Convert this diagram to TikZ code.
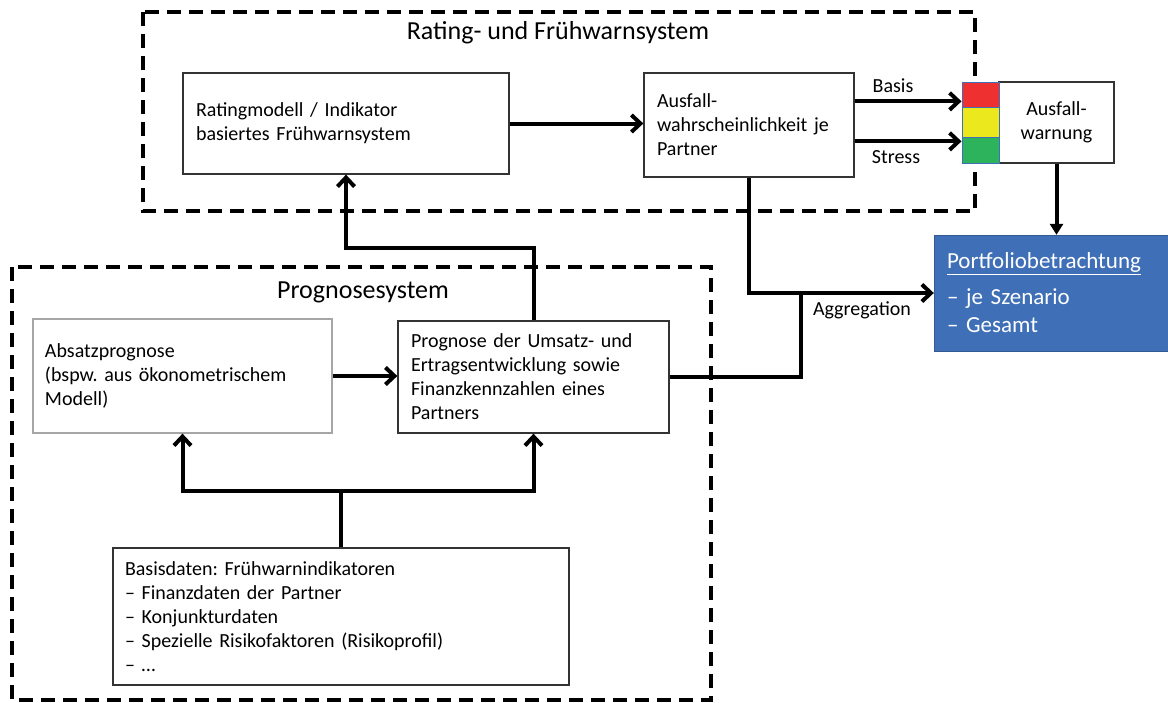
\documentclass[tikz,border=0pt]{standalone}
\usepackage{fontspec}
\setmainfont{Carlito}
\usepackage{xcolor}
\definecolor{diagram-blue}{HTML}{3F6FB6}
\definecolor{diagram-red}{HTML}{EE3030}
\definecolor{diagram-yellow}{HTML}{ECE81E}
\definecolor{diagram-green}{HTML}{2DB35B}
\definecolor{diagram-line}{HTML}{333333}
\definecolor{diagram-grey}{HTML}{A6A6A6}
\usepackage{tikz}
\usetikzlibrary{arrows.meta}
\frenchspacing

\tikzset{
    textbox/.style={draw=diagram-line, line width=1.3pt, fill=white, inner xsep=13pt, inner ysep=0pt,
        align=left, font=\fontsize{20}{24}\selectfont},
    light/.style={draw=diagram-blue, line width=1pt, minimum width=37pt, inner sep=0pt},
    frame/.style={dash pattern=on 14pt off 8pt, line width=3.6pt},
    link/.style={line width=4pt},
    arrow/.style={link, -{Straight Barb[length=9pt,width=17pt]}},
    tag/.style={font=\fontsize{20}{24}\selectfont},
    heading/.style={font=\fontsize{26}{31}\selectfont}
}

\begin{document}
\begin{tikzpicture}[x=1pt, y=-1pt]

    \useasboundingbox (0, 0) rectangle (1168, 702);

    % Frames
    \draw[frame] (143, 12) rectangle (975, 211);
    \draw[frame] (12, 267) rectangle (711, 700);
    \node[heading] (ratingtitle) at (558, 33) {Rating- und Frühwarnsystem};
    \node[heading] (prognosetitle) at (363, 292) {Prognosesystem};

    % Rating
    \node[textbox, text width=300pt, minimum height=101pt] (rating) at (346, 123.5)
        {Ratingmodell / Indikator\\basiertes Frühwarnsystem};
    \node[textbox, text width=184pt, minimum height=104pt] (ausfall) at (749, 125)
        {Ausfall-\\wahrscheinlichkeit je\\Partner};

    % Warning
    \node[textbox, align=center, inner xsep=0pt, minimum width=115pt, minimum height=81pt] (warn) at (1056.5, 122.5)
        {Ausfall-\\warnung};
    \node[light, fill=diagram-red, minimum height=25pt] (lights-red) at (980.5, 94.5) {};
    \node[light, fill=diagram-yellow, minimum height=30pt] (lights-yellow) at (980.5, 122) {};
    \node[light, fill=diagram-green, minimum height=26pt] (lights-green) at (980.5, 150) {};

    % Portfolio
    \node[fill=diagram-blue, draw=diagram-blue!80!black, text=white, align=left, inner xsep=13pt,
        text width=208pt, minimum height=116pt, font=\fontsize{23}{28}\selectfont] (portfolio) at (1051, 293)
        {\underline{Portfoliobetrachtung}\\[8pt]-- je Szenario\\-- Gesamt};

    % Prognose
    \node[textbox, draw=diagram-grey, inner xsep=12pt, text width=275pt, minimum height=114pt] (absatz) at (182.5, 376)
        {Absatzprognose\\(bspw. aus ökonometrischem\\Modell)};
    \node[textbox, text width=245pt, minimum height=112pt] (prognose) at (533.5, 377)
        {Prognose der Umsatz- und\\Ertragsentwicklung sowie\\Finanzkennzahlen eines\\Partners};
    \node[textbox, inner xsep=12pt, text width=432pt, minimum height=137pt] (basis) at (341, 616.5)
        {Basisdaten: Frühwarnindikatoren\\-- Finanzdaten der Partner\\-- Konjunkturdaten\\-- Spezielle Risikofaktoren (Risikoprofil)\\-- \dots};

    % Connectors
    \coordinate (basisstart) at ([yshift=-29pt]ausfall.north east);
    \coordinate (stressstart) at ([yshift=-69pt]ausfall.north east);
    \coordinate (merge) at (801, 293);
    \coordinate (upbend) at (346, 248);
    \coordinate (split) at (341, 491);

    \draw[arrow] (rating.east) -- (rating.east -| ausfall.west);
    \draw[arrow] (basisstart) -- (basisstart -| lights-red.west);
    \draw[arrow] (stressstart) -- (stressstart -| lights-green.west);
    \draw[link, -{Triangle[length=11pt,width=13pt]}] (warn.south) -- (warn.south |- portfolio.north);
    \draw[arrow] (ausfall.south) |- (portfolio.west);
    \draw[link] (prognose.east) -| (merge);
    \draw[arrow] (prognose.north) |- (upbend) -- (rating.south);
    \draw[arrow] (absatz.east) -- (absatz.east -| prognose.west);
    \draw[link] (basis.north) -- (split);
    \draw[arrow] (split) -| (absatz.south);
    \draw[arrow] (split) -| (prognose.south);

    % Labels
    \node[tag] (basislabel) at (893, 86) {Basis};
    \node[tag] (stresslabel) at (896, 157) {Stress};
    \node[tag] (agglabel) at (862, 310) {Aggregation};

\end{tikzpicture}
\end{document}
